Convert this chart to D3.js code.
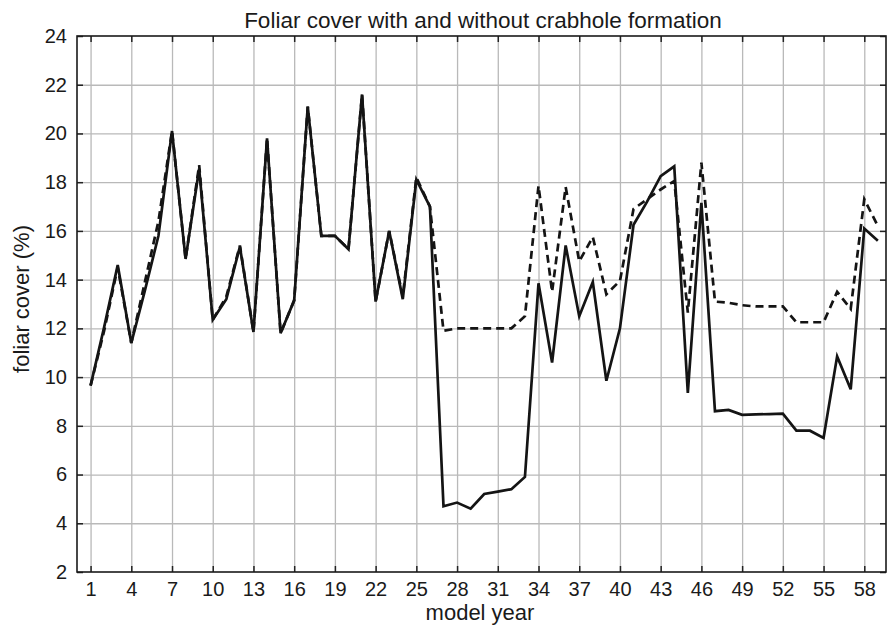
<!DOCTYPE html>
<html>
<head>
<meta charset="utf-8">
<script src="https://cdn.jsdelivr.net/npm/d3@7"></script>
<style>
  body { margin: 0; background: #fff; overflow: hidden; }
  svg { display: block; }
  text { font-family: "Liberation Sans", Arial, Helvetica, sans-serif; fill: #1a1a1a; }
</style>
</head>
<body>
<div id="myChart"></div>
<script>
// Chart values
const years = [1,2,3,4,5,6,7,8,9,10,11,12,13,14,15,16,17,18,19,20,
  21,22,23,24,25,26,27,28,29,30,31,32,33,34,35,36,37,38,39,40,
  41,42,43,44,45,46,47,48,49,50,51,52,53,54,55,56,57,58,59];

// solid line
const coverSolid = [9.65,12.05,14.6,11.4,13.55,15.8,20.1,14.85,18.55,12.35,
  13.2,15.35,11.85,19.8,11.8,13.15,21.1,15.8,15.8,15.25,
  21.6,13.1,16.0,13.2,18.1,17.0,4.7,4.85,4.6,5.2,
  5.3,5.4,5.9,13.85,10.6,15.4,12.5,13.9,9.85,12.0,
  16.25,17.2,18.25,18.65,9.35,17.15,8.6,8.65,8.45,8.47,
  8.48,8.5,7.8,7.8,7.5,10.85,9.5,16.1,15.6];

// dashed line
const coverDashed = [9.65,11.9,14.5,11.4,13.9,16.4,20.1,14.85,18.7,12.35,
  13.3,15.4,11.85,19.8,11.8,13.15,21.1,15.8,15.8,15.25,
  21.6,13.1,16.0,13.3,18.2,17.0,11.9,12.0,12.0,12.0,
  12.0,12.0,12.5,17.85,13.5,17.8,14.75,15.75,13.4,13.95,
  16.9,17.3,17.7,18.05,12.65,18.8,13.1,13.05,12.95,12.9,
  12.9,12.9,12.25,12.25,12.25,13.5,12.8,17.3,16.2];

const xTicks = [1,4,7,10,13,16,19,22,25,28,31,34,37,40,43,46,49,52,55,58];
const yTicks = [2,4,6,8,10,12,14,16,18,20,22,24];

const w = 887;
const h = 626;
const margin = {top:36, left:77, bottom:54, right:1};
const innerWidth = w - margin.left - margin.right;
const innerHeight = h - margin.top - margin.bottom;

const svg = d3.select("#myChart")
  .append("svg")
    .attr("width", w)
    .attr("height", h)
    .attr("viewBox", [0,0,w,h]);

const mainG = svg.append("g")
  .attr("transform", `translate(${margin.left}, ${margin.top})`);

const xScale = d3.scaleLinear()
  .domain([0, 59.6])
  .range([0, innerWidth]);

const yScale = d3.scaleLinear()
  .domain([2, 24])
  .range([innerHeight, 0]);

// helper: axis that only draws its tick lines
const tickOnly = g => {
  g.select(".domain").remove();
  g.selectAll(".tick text").remove();
};

// grid lines
mainG.append("g")
  .attr("class", "grid")
  .attr("transform", `translate(0,${innerHeight})`)
  .call(d3.axisBottom(xScale).tickValues(xTicks).tickSize(-innerHeight))
  .call(tickOnly);

mainG.append("g")
  .attr("class", "grid")
  .call(d3.axisLeft(yScale).tickValues(yTicks.slice(1, -1)).tickSize(-innerWidth))
  .call(tickOnly);

mainG.selectAll(".grid .tick line")
  .attr("stroke", "#b9b9b9")
  .attr("stroke-width", 1.3);

// x axis labels + inward ticks (bottom and top)
const xAxisG = mainG.append("g")
  .attr("transform", `translate(0,${innerHeight})`)
  .call(d3.axisBottom(xScale).tickValues(xTicks).tickSize(-6).tickPadding(10).tickFormat(d3.format("d")));
xAxisG.select(".domain").remove();
xAxisG.selectAll("text").style("font-size", "20px").attr("fill", "#1a1a1a");
xAxisG.selectAll(".tick line").attr("stroke", "#222").attr("stroke-width", 1.5);

const xTopG = mainG.append("g")
  .call(d3.axisTop(xScale).tickValues(xTicks).tickSize(-6))
  .call(tickOnly);
xTopG.selectAll(".tick line").attr("stroke", "#222").attr("stroke-width", 1.5);

// y axis labels + inward ticks (left and right)
const yAxisG = mainG.append("g")
  .call(d3.axisLeft(yScale).tickValues(yTicks).tickSize(-6).tickPadding(10).tickFormat(d3.format("d")));
yAxisG.select(".domain").remove();
yAxisG.selectAll("text").style("font-size", "20px").attr("fill", "#1a1a1a");
yAxisG.selectAll(".tick line").attr("stroke", "#222").attr("stroke-width", 1.5);

const yRightG = mainG.append("g")
  .attr("transform", `translate(${innerWidth},0)`)
  .call(d3.axisRight(yScale).tickValues(yTicks).tickSize(-6))
  .call(tickOnly);
yRightG.selectAll(".tick line").attr("stroke", "#222").attr("stroke-width", 1.5);

// frame
mainG.append("rect")
  .attr("x", 0)
  .attr("y", 0)
  .attr("width", innerWidth)
  .attr("height", innerHeight)
  .attr("fill", "none")
  .attr("stroke", "#1a1a1a")
  .attr("stroke-width", 1.6);

// lines
const line = d3.line()
  .x(d => xScale(d[0]))
  .y(d => yScale(d[1]));

mainG.append("path")
  .datum(years.map((y, i) => [y, coverDashed[i]]))
  .attr("fill", "none")
  .attr("stroke", "#141414")
  .attr("stroke-width", 2.7)
  .attr("stroke-dasharray", "8,5")
  .attr("d", line);

mainG.append("path")
  .datum(years.map((y, i) => [y, coverSolid[i]]))
  .attr("fill", "none")
  .attr("stroke", "#141414")
  .attr("stroke-width", 2.7)
  .attr("d", line);

// title and axis titles
svg.append("text")
  .attr("x", 483)
  .attr("y", 28)
  .attr("text-anchor", "middle")
  .style("font-size", "22.5px")
  .text("Foliar cover with and without crabhole formation");

svg.append("text")
  .attr("x", 480)
  .attr("y", 620)
  .attr("text-anchor", "middle")
  .style("font-size", "22px")
  .text("model year");

svg.append("text")
  .attr("transform", `translate(29, ${margin.top + innerHeight/2 - 5}) rotate(-90)`)
  .attr("text-anchor", "middle")
  .style("font-size", "22px")
  .text("foliar cover (%)");
</script>
</body>
</html>
